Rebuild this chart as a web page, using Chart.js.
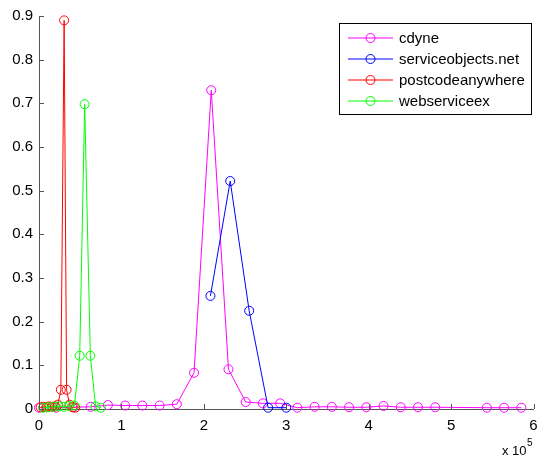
<!DOCTYPE html>
<html>
<head>
<meta charset="utf-8">
<script src="https://cdn.jsdelivr.net/npm/chart.js@4.4.1/dist/chart.umd.min.js"></script>
<style>
  html, body { margin: 0; padding: 0; background: #fff; }
  canvas { display: block; }
</style>
</head>
<body>
<canvas id="plot" width="539" height="457"></canvas>
<script>
// tick labels (x is shown in units of 10^5)
const xTickValues = [0, 100000, 200000, 300000, 400000, 500000, 600000];
const yTickValues = [0, 0.1, 0.2, 0.3, 0.4, 0.5, 0.6, 0.7, 0.8, 0.9];
const seriesNames = ["cdyne", "serviceobjects.net", "postcodeanywhere", "webserviceex"];
const seriesColors = ["#ff00ff", "#0000ff", "#ff0000", "#00ff00"];

// cdyne
const cdyneX = [0, 20900, 41800, 62700, 83600, 104500, 125400, 146300, 167200, 188100,
                209000, 229900, 250800, 271700, 292600, 313500, 334400, 355300, 376200, 397100,
                418000, 438900, 459800, 480700, 543400, 564300, 585200];
const cdyneY = [0.003, 0.003, 0.004, 0.005, 0.009, 0.008, 0.008, 0.008, 0.011, 0.083,
                0.730, 0.091, 0.016, 0.013, 0.013, 0.003, 0.005, 0.005, 0.004, 0.004,
                0.007, 0.004, 0.004, 0.004, 0.003, 0.003, 0.003];

// serviceobjects.net
const serviceX = [208000, 232000, 255000, 278000, 300000];
const serviceY = [0.259, 0.522, 0.225, 0.003, 0.003];

// postcodeanywhere
const postcodeX = [2000, 5500, 9000, 12500, 16000, 19500, 23000, 26500, 30500, 33500, 37000, 40500, 44000];
const postcodeY = [0.004, 0.005, 0.004, 0.006, 0.005, 0.006, 0.010, 0.044, 0.890, 0.044, 0.010, 0.004, 0.003];

// webserviceex
const webX = [5000, 11000, 17500, 24000, 30000, 36500, 43000, 49400, 55400, 62300, 68700, 75000];
const webY = [0.003, 0.004, 0.005, 0.006, 0.005, 0.007, 0.008, 0.122, 0.698, 0.122, 0.006, 0.003];

const FONT = "'Liberation Sans', Arial, Helvetica, sans-serif";
const AXIS_COLOR = "#555";

function pts(xs, ys) {
  return xs.map((x, i) => ({ x: x, y: ys[i] }));
}

function series(i, xs, ys) {
  const c = seriesColors[i];
  return {
    label: seriesNames[i],
    data: pts(xs, ys),
    borderColor: c,
    backgroundColor: "rgba(0,0,0,0)",
    borderWidth: 1,
    pointRadius: 4.5,
    pointBorderWidth: 1,
    pointBorderColor: c,
    pointBackgroundColor: "rgba(0,0,0,0)",
    tension: 0,
    clip: false,
    order: 3 - i          // later series drawn on top, like matlab
  };
}

// inward ticks, the x10^5 multiplier and the boxed legend
const matlabBits = {
  id: "matlabBits",
  afterDraw(chart) {
    const ctx = chart.ctx;
    const xs = chart.scales.x, ys = chart.scales.y;
    const area = chart.chartArea;
    ctx.save();
    ctx.strokeStyle = AXIS_COLOR;
    ctx.lineWidth = 1;
    ctx.beginPath();
    xTickValues.forEach(v => {
      const px = Math.round(xs.getPixelForValue(v)) + 0.5;
      ctx.moveTo(px, area.bottom);
      ctx.lineTo(px, area.bottom - 5);
    });
    yTickValues.forEach(v => {
      const py = Math.round(ys.getPixelForValue(v)) + 0.5;
      ctx.moveTo(area.left, py);
      ctx.lineTo(area.left + 5, py);
    });
    ctx.stroke();

    // exponent label
    ctx.fillStyle = "#000";
    ctx.textBaseline = "alphabetic";
    ctx.textAlign = "left";
    ctx.font = "13px " + FONT;
    ctx.fillText("x 10", 502, 455);
    ctx.font = "10px " + FONT;
    ctx.fillText("5", 527, 446);

    // legend
    const lx = 339.5, ly = 23.5, lw = 192, lh = 91;
    ctx.fillStyle = "#fff";
    ctx.fillRect(lx, ly, lw, lh);
    ctx.strokeStyle = "#000";
    ctx.strokeRect(lx, ly, lw, lh);
    ctx.font = "15px " + FONT;
    ctx.textBaseline = "middle";
    chart.data.datasets.forEach((ds, i) => {
      const y = 38 + i * 21;
      ctx.strokeStyle = ds.borderColor;
      ctx.beginPath();
      ctx.moveTo(348, y);
      ctx.lineTo(393, y);
      ctx.stroke();
      ctx.beginPath();
      ctx.arc(370.5, y, 4.5, 0, Math.PI * 2);
      ctx.stroke();
      ctx.fillStyle = "#000";
      ctx.fillText(ds.label, 399, y + 1);
    });
    ctx.restore();
  }
};

new Chart(document.getElementById("plot"), {
  type: "line",
  data: {
    datasets: [
      series(0, cdyneX, cdyneY),
      series(1, serviceX, serviceY),
      series(2, postcodeX, postcodeY),
      series(3, webX, webY)
    ]
  },
  options: {
    responsive: false,
    animation: false,
    devicePixelRatio: 1,
    events: [],
    layout: { padding: { top: 16, right: 2, left: 0, bottom: 0 } },
    plugins: {
      legend: { display: false },
      tooltip: { enabled: false }
    },
    scales: {
      x: {
        type: "linear",
        min: 0,
        max: 600000,
        afterBuildTicks: s => { s.ticks = xTickValues.map(v => ({ value: v })); },
        afterFit: s => { s.height = 48; s.paddingLeft = 0; s.paddingRight = 0; },
        grid: { drawOnChartArea: false, drawTicks: false },
        border: { display: true, color: AXIS_COLOR, width: 1 },
        ticks: {
          color: "#000",
          padding: 8,
          maxRotation: 0,
          autoSkip: false,
          font: { family: FONT, size: 15 },
          callback: v => String(v / 100000)
        }
      },
      y: {
        type: "linear",
        min: 0,
        max: 0.9,
        afterBuildTicks: s => { s.ticks = yTickValues.map(v => ({ value: v })); },
        afterFit: s => { s.width = 39; s.paddingTop = 0; s.paddingBottom = 0; },
        grid: { drawOnChartArea: false, drawTicks: false },
        border: { display: true, color: AXIS_COLOR, width: 1 },
        ticks: {
          color: "#000",
          padding: 6,
          autoSkip: false,
          font: { family: FONT, size: 15 },
          callback: v => String(Number(v.toFixed(1)))
        }
      }
    }
  },
  plugins: [matlabBits]
});
</script>
</body>
</html>
